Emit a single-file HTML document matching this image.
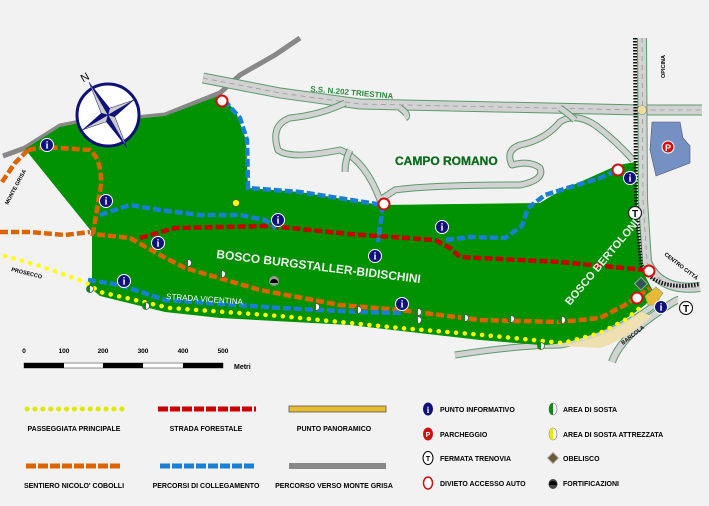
<!DOCTYPE html>
<html><head><meta charset="utf-8"><style>
html,body{margin:0;padding:0;background:#f2f2f2;}
svg{display:block;font-family:"Liberation Sans",sans-serif;font-weight:bold;}
</style></head><body>
<svg width="709" height="506" viewBox="0 0 709 506" xmlns="http://www.w3.org/2000/svg">
<defs>
<g id="info"><circle r="6.5" fill="#10107a" stroke="#fff" stroke-width="1"/><text y="3.5" text-anchor="middle" font-size="10" fill="#fff" font-family="Liberation Serif">i</text></g>
<g id="noent"><circle r="5.5" fill="#fff" stroke="#d01010" stroke-width="2"/></g>
<g id="tram"><circle r="6.5" fill="#fff" stroke="#222" stroke-width="1.2"/><text y="4" text-anchor="middle" font-size="10" fill="#000">T</text></g>
<g id="sosta"><circle r="3.5" fill="#fff" stroke="#555" stroke-width="0.8"/><path d="M0,-3.5 A3.5,3.5 0 0 0 0,3.5Z" fill="#118811"/></g>
</defs>
<rect width="709" height="506" fill="#f2f2f2"/>

<path d="M3,156 L25,148 L60,126 L80,122 L115,120 L165,115 L220,93 L240,75 L275,55 L300,38" fill="none" stroke="#888" stroke-width="5"/>

<path d="M203,78 L280,93 L360,104 L640,110 L702,110" fill="none" stroke="#5a9a6a" stroke-width="11"/>
<path d="M203,78 L280,93 L360,104 L640,110 L702,110" fill="none" stroke="#d2d2d2" stroke-width="9"/>
<path d="M203,78 L280,93 L360,104 L640,110 L702,110" fill="none" stroke="#999" stroke-width="0.8" stroke-dasharray="5,4"/>
<path d="M642,38 L643,200 L647,262 Q660,292 700,287" fill="none" stroke="#5a9a6a" stroke-width="10"/>
<path d="M642,38 L643,200 L647,262 Q660,292 700,287" fill="none" stroke="#d2d2d2" stroke-width="8"/>
<path d="M642,38 L643,200 L647,262 Q660,292 700,287" fill="none" stroke="#999" stroke-width="0.8" stroke-dasharray="5,4"/>
<circle cx="642" cy="110" r="4.5" fill="#eedc9c" stroke="#888" stroke-width="0.6"/>
<g fill="none" stroke-linejoin="round">
<path d="M345,103 Q320,115 290,118 Q270,125 278,150 Q290,160 340,150 Q365,160 380,200 L395,190 Q430,185 520,185 Q545,180 540,168 Q530,160 512,165 Q505,150 520,145 Q545,140 560,122 Q575,112 595,125 Q615,140 633,160" stroke="#5a9a6a" stroke-width="7"/>
<path d="M345,103 Q320,115 290,118 Q270,125 278,150 Q290,160 340,150 Q365,160 380,200 L395,190 Q430,185 520,185 Q545,180 540,168 Q530,160 512,165 Q505,150 520,145 Q545,140 560,122 Q575,112 595,125 Q615,140 633,160" stroke="#d2d2d2" stroke-width="5"/>
<path d="M350,150 Q345,160 345,172" stroke="#5a9a6a" stroke-width="7"/>
<path d="M350,150 Q345,160 345,172" stroke="#d2d2d2" stroke-width="5"/>
<path d="M560,108 Q570,115 575,120 M400,108 Q410,115 405,118" stroke="#5a9a6a" stroke-width="7"/>
<path d="M560,108 Q570,115 575,120 M400,108 Q410,115 405,118" stroke="#d2d2d2" stroke-width="5"/>
<path d="M455,355 Q520,345 560,345 Q620,335 660,300" stroke="#5a9a6a" stroke-width="7"/>
<path d="M455,355 Q520,345 560,345 Q620,335 660,300" stroke="#d2d2d2" stroke-width="5"/>
<path d="M612,362 Q620,340 650,318 Q675,300 678,300" stroke="#5a9a6a" stroke-width="8"/>
<path d="M612,362 Q620,340 650,318 Q675,300 678,300" stroke="#d2d2d2" stroke-width="6"/>
</g>
<path d="M652,122 L680,122 L683,138 L690,146 L690,163 L656,176 L650,150Z" fill="#7591c4" stroke="#556" stroke-width="0.6"/>
<circle cx="668" cy="147" r="6" fill="#d01010" stroke="#fff"/><text x="668" y="151" text-anchor="middle" font-size="9" fill="#fff">P</text>

<path d="M25,149 L60,127 L80,123 L115,121 L165,116 L221,95 L236,112 L246,140 L248,188 L300,192 L380,205 L540,203 Q560,190 580,182 L618,165 L636,162 L638,230 L643,272 L655,295 L645,305 Q620,325 590,335 Q565,345 540,345 L480,340 L350,325 L220,318 L165,312 L100,296 L88,286 L92,280 L92,232Z" fill="#009100"/>
<path d="M560,346 Q610,338 640,312 L652,316 Q625,340 600,348Z" fill="#efe0b0"/>
<path d="M635,38 L636,200 L641,265 Q655,292 700,284" fill="none" stroke="#111" stroke-width="4" stroke-dasharray="1.5,1.5"/>

<g fill="none" stroke-width="4.5">
<path d="M0,232 L30,232 L65,235 L90,232 M2,182 L15,163 L28,150 M28,150 L45,147 L90,150 Q102,160 101,185 L96,215 L93,234 L130,238 L160,255 L185,268 L260,290 L340,305 L400,310 L480,320 L560,322 L600,318 L625,305 L650,288" stroke="#dc6400" stroke-dasharray="8,3"/>
<path d="M140,238 L175,228 L270,226 L350,234 L435,240 L450,248 L460,257 L560,262 L645,270" stroke="#c80000" stroke-dasharray="8,3"/>
<g stroke="#1a7fd2" stroke-dasharray="8,3">
<path d="M224,100 L240,118 L247,140 L248,188 L300,192 L383,205"/>
<path d="M383,205 L378,242"/>
<path d="M100,215 L130,205 L160,210 L200,215 L240,215 L265,220 L276,228"/>
<path d="M446,240 L470,237 L505,238 L522,226 L528,208 L545,195 L600,178 L618,170"/>
<path d="M88,280 L120,285 L165,300 L280,308 L360,312 L402,313"/>
</g>
</g>
<path d="M5,256 L40,266 L85,282 L100,292 L170,308 L280,316 L400,328 L483,335 L563,343 L600,333 L625,320 L642,306" fill="none" stroke="#ffff00" stroke-width="4.5" stroke-linecap="round" stroke-dasharray="0.1,8.6"/>

<rect x="637" y="279" width="9" height="9" fill="#355" stroke="#9a9" transform="rotate(45 641 283)"/>
<path d="M645,296 L656,287 L663,293 L655,305 L648,305Z" fill="#e8b838" stroke="#7a6" stroke-width="0.6"/>

<use href="#info" x="47" y="145"/><use href="#info" x="106" y="201"/><use href="#info" x="158" y="243"/><use href="#info" x="278" y="220"/><use href="#info" x="124" y="281"/><use href="#info" x="375" y="256"/><use href="#info" x="442" y="227"/><use href="#info" x="402" y="304"/><use href="#info" x="630" y="178"/><use href="#info" x="661" y="307"/>
<use href="#noent" x="222" y="101"/><use href="#noent" x="384" y="204"/><use href="#noent" x="618" y="170"/><use href="#noent" x="649" y="271"/><use href="#noent" x="637" y="298"/>
<use href="#tram" x="635" y="213"/><use href="#tram" x="686" y="308"/>
<use href="#sosta" x="188" y="263"/><use href="#sosta" x="222" y="274"/><use href="#sosta" x="90" y="289"/><use href="#sosta" x="146" y="306"/><use href="#sosta" x="316" y="307"/><use href="#sosta" x="358" y="310"/><use href="#sosta" x="418" y="312"/><use href="#sosta" x="418" y="320"/><use href="#sosta" x="465" y="318"/><use href="#sosta" x="511" y="319"/><use href="#sosta" x="562" y="320"/><use href="#sosta" x="541" y="346"/>
<circle cx="236" cy="203" r="3.5" fill="#ff0" stroke="#555" stroke-width="0.8"/>
<circle cx="274" cy="281" r="5" fill="#999"/><path d="M270,283 A4,4 0 0 1 278,283Z" fill="#000"/>

<g transform="translate(108,115)">
<circle r="31" fill="#fff" stroke="#10107a" stroke-width="3"/>
<g transform="rotate(-30)">
<path d="M0,-38 L5,-5 L0,0Z" fill="#10107a"/><path d="M0,-38 L-5,-5 L0,0Z" fill="#ccc" stroke="#10107a" stroke-width=".5"/>
<path d="M0,38 L-5,5 L0,0Z" fill="#10107a"/><path d="M0,38 L5,5 L0,0Z" fill="#ccc" stroke="#10107a" stroke-width=".5"/>
<path d="M-30,0 L-5,-5 L0,0Z" fill="#10107a"/><path d="M-30,0 L-5,5 L0,0Z" fill="#ccc" stroke="#10107a" stroke-width=".5"/>
<path d="M30,0 L5,5 L0,0Z" fill="#10107a"/><path d="M30,0 L5,-5 L0,0Z" fill="#ccc" stroke="#10107a" stroke-width=".5"/>
</g>
<text x="-27" y="-33" font-size="11" fill="#000" transform="rotate(-30 -25 -37)" font-weight="normal">N</text>
</g>

<text x="310" y="95" font-size="8" fill="#2a8a3a" transform="rotate(5 350 95)">S.S. N.202 TRIESTINA</text>
<text x="395" y="165" font-size="12" fill="#0a6a1a" stroke="#0a6a1a" stroke-width=".3">CAMPO ROMANO</text>
<text x="216" y="258" font-size="12" fill="#eee" transform="rotate(7 216 258)">BOSCO BURGSTALLER-BIDISCHINI</text>
<text x="570" y="306" font-size="11" fill="#eee" transform="rotate(-50 570 306)">BOSCO BERTOLONI</text>
<text x="166" y="299" font-size="8" fill="#fff" font-weight="normal" transform="rotate(4 166 299)">STRADA VICENTINA</text>
<text x="8" y="205" font-size="5.5" fill="#000" transform="rotate(-62 8 205)">MONTE GRISA</text>
<text x="11" y="271" font-size="5.5" fill="#000" transform="rotate(14 11 271)">PROSECCO</text>
<text x="649" y="88" font-size="5.5" fill="#000" transform="rotate(-90 652 75)">OPICINA</text>
<text x="664" y="255" font-size="5.5" fill="#000" transform="rotate(38 664 255)">CENTRO CITTÀ</text>
<text x="623" y="345" font-size="5.5" fill="#000" transform="rotate(-38 623 345)">BARCOLA</text>

<g font-size="6.5" fill="#000" text-anchor="middle">
<text x="24" y="353">0</text><text x="64" y="353">100</text><text x="103" y="353">200</text><text x="143" y="353">300</text><text x="183" y="353">400</text><text x="223" y="353">500</text>
</g>
<rect x="24" y="363" width="199" height="5" fill="#fff" stroke="#444" stroke-width=".6"/>
<rect x="24" y="363" width="40" height="5" fill="#000"/><rect x="103" y="363" width="40" height="5" fill="#000"/><rect x="183" y="363" width="40" height="5" fill="#000"/>
<text x="234" y="369" font-size="7">Metri</text>

<path d="M27,409 L122,409" stroke="#dfe800" stroke-width="5" stroke-linecap="round" stroke-dasharray="0.1,7.8"/>
<path d="M158,409 L256,409" stroke="#c80000" stroke-width="5" stroke-dasharray="10,2"/>
<rect x="289" y="406" width="97" height="6" fill="#e8bc30" stroke="#555" stroke-width=".8"/>
<path d="M26,466 L121,466" stroke="#dc6400" stroke-width="5" stroke-dasharray="10,2"/>
<path d="M160,466 L255,466" stroke="#1a7fd2" stroke-width="5" stroke-dasharray="10,2"/>
<rect x="289" y="463" width="97" height="6" fill="#888"/>
<g font-size="7" fill="#000" text-anchor="middle">
<text x="74" y="431">PASSEGGIATA PRINCIPALE</text><text x="206" y="431">STRADA FORESTALE</text><text x="334" y="431">PUNTO PANORAMICO</text>
<text x="74" y="488">SENTIERO NICOLO' COBOLLI</text><text x="206" y="488">PERCORSI DI COLLEGAMENTO</text><text x="334" y="488">PERCORSO VERSO MONTE GRISA</text>
</g>
<g font-size="7" fill="#000">
<text x="440" y="412">PUNTO INFORMATIVO</text><text x="440" y="437">PARCHEGGIO</text><text x="440" y="461">FERMATA TRENOVIA</text><text x="440" y="486">DIVIETO ACCESSO AUTO</text>
<text x="563" y="412">AREA DI SOSTA</text><text x="563" y="437">AREA DI SOSTA ATTREZZATA</text><text x="563" y="461">OBELISCO</text><text x="563" y="486">FORTIFICAZIONI</text>
</g>
<ellipse cx="428" cy="409" rx="5" ry="6.5" fill="#10107a"/><text x="428" y="413" text-anchor="middle" font-size="9" fill="#fff" font-family="Liberation Serif">i</text>
<ellipse cx="428" cy="434" rx="5" ry="6.5" fill="#d01010"/><text x="428" y="437" text-anchor="middle" font-size="7" fill="#fff">P</text>
<ellipse cx="428" cy="458" rx="5" ry="6.5" fill="#fff" stroke="#000"/><text x="428" y="461" text-anchor="middle" font-size="7" fill="#000">T</text>
<ellipse cx="428" cy="483" rx="4.5" ry="6" fill="#fff" stroke="#d01010" stroke-width="1.5"/>
<ellipse cx="553" cy="409" rx="4" ry="6" fill="#fff" stroke="#666" stroke-width=".6"/><path d="M553,403 A4,6 0 0 0 553,415Z" fill="#118811"/>
<ellipse cx="553" cy="434" rx="4" ry="6" fill="#fff" stroke="#666" stroke-width=".6"/><path d="M553,428 A4,6 0 0 0 553,440Z" fill="#e8e800"/>
<rect x="549" y="454" width="8" height="8" fill="#6a5a3a" stroke="#bbb" transform="rotate(45 553 458)"/>
<ellipse cx="553" cy="484" rx="4.5" ry="5" fill="#444"/><path d="M549,485 A4,4 0 0 1 557,485Z" fill="#000"/>
</svg>
</body></html>
